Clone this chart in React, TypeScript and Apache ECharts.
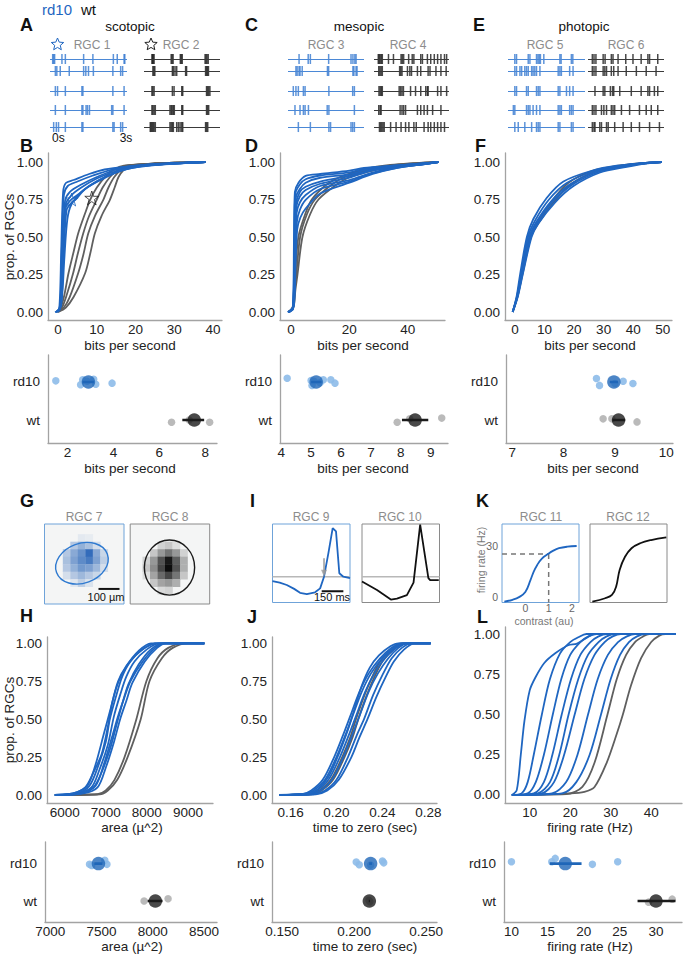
import React, { useEffect, useRef } from 'react';
import * as echarts from 'echarts';

const FONT = '"Liberation Sans", Arial, Helvetica, sans-serif';
const BLUE = '#1f66c1';
const GRAY_LINE = '#5f5f5f';
const LIGHT_BLUE = '#8dbbe9';
const LIGHT_GRAY = '#b2b2b2';
const MEAN_BLUE = '#1f66b8';
const MEAN_BLACK = '#1b1b1b';
const AXIS = '#a3a3a3';

// ---------------- A/C/E rasters (spike times, s) ----------------
const trialLevels = [1, 2, 3.67, 5.25, 6.67];
const rgc1Spikes = [
  [0.03, 0.07, 0.11, 0.41, 0.55, 1.3, 1.68, 2.52, 2.68, 2.96, 2.99],
  [0.14, 0.2, 0.34, 0.71, 1.3, 1.39, 1.5, 1.7, 2.5, 2.82, 2.9],
  [0.14, 0.23, 0.55, 1.23, 1.27, 2.5, 2.96],
  [0.14, 0.55, 1.23, 1.27, 1.4, 1.46, 1.54, 2.45, 2.5, 2.96],
  [0.07, 0.18, 0.27, 0.55, 1.23, 1.27, 2.5, 2.55, 2.82, 2.9],
];
const rgc2Spikes = [
  [0.25, 0.28, 0.3, 0.34, 1.05, 1.09, 1.13, 1.43, 1.47, 1.51, 2.46, 2.5, 2.54, 2.59],
  [0.29, 0.33, 0.37, 1.1, 1.14, 1.21, 1.28, 1.65, 1.69, 2.48, 2.52, 2.56, 2.6],
  [0.25, 0.29, 0.34, 1.1, 1.17, 1.49, 1.53, 2.52, 2.56, 2.61, 2.66],
  [0.25, 0.29, 0.34, 0.39, 1.0, 1.05, 1.09, 1.14, 1.18, 1.49, 1.53, 2.52, 2.56, 2.61],
  [0.18, 0.22, 0.26, 0.3, 0.34, 0.39, 1.0, 1.05, 1.1, 1.14, 1.28, 1.35, 1.42, 1.49, 1.53, 2.48, 2.52, 2.57],
];
const rgc3Spikes = [
  [0.38, 0.76, 0.85, 1.61, 2.54, 2.62, 2.7, 2.75],
  [0.25, 0.3, 0.38, 0.42, 0.51, 1.56, 1.61, 2.62, 2.66, 2.75, 2.79],
  [0.14, 0.25, 0.35, 0.56, 0.63, 1.62, 2.61, 2.68],
  [0.21, 0.42, 0.56, 0.63, 0.77, 1.55, 1.62, 2.68],
  [0.35, 0.85, 1.62, 1.69, 2.54, 2.61, 2.68],
];
const rgc4Spikes = [
  [0.1, 0.14, 0.18, 0.23, 0.27, 0.53, 0.74, 1.06, 1.11, 1.17, 1.38, 1.53, 1.6, 1.89, 1.96, 2.17, 2.31, 2.46, 2.6, 2.74, 2.89, 2.98],
  [0.12, 0.17, 0.22, 0.27, 1.0, 1.05, 1.1, 1.33, 1.43, 1.5, 1.75, 1.89, 2.2, 2.28, 2.53, 2.74, 2.96],
  [0.13, 0.18, 0.23, 0.27, 0.98, 1.04, 1.1, 1.16, 1.46, 1.67, 1.89, 2.1, 2.17, 2.2, 2.6, 2.74, 2.98],
  [0.12, 0.18, 0.22, 1.02, 1.1, 1.17, 1.25, 1.75, 1.89, 2.03, 2.17, 2.39, 2.74],
  [0.15, 0.2, 0.25, 0.3, 0.35, 0.62, 0.85, 1.06, 1.25, 1.39, 1.6, 1.7, 2.03, 2.2, 2.31, 2.46, 2.6, 2.74, 2.89],
];
const rgc5Spikes = [
  [0.2, 0.27, 0.75, 0.82, 1.09, 1.15, 1.2, 1.25, 1.39, 2.05, 2.1, 2.52, 2.58],
  [0.2, 0.27, 0.41, 0.48, 0.61, 0.68, 0.75, 0.89, 0.95, 1.02, 1.09, 1.23, 1.98, 2.05, 2.11, 2.45, 2.59],
  [0.2, 0.27, 0.68, 0.75, 1.09, 1.16, 1.23, 1.98, 2.05, 2.32, 2.45, 2.59],
  [0.14, 0.2, 0.68, 0.75, 0.82, 0.95, 1.09, 1.23, 1.98, 2.05, 2.11, 2.45, 2.52, 2.59],
  [0.2, 0.34, 0.61, 0.89, 1.09, 1.16, 1.23, 1.98, 2.05, 2.52, 2.59],
];
const rgc6Spikes = [
  [0.1, 0.17, 0.25, 0.55, 0.63, 0.89, 0.96, 1.17, 1.49, 1.79, 2.13, 2.41, 2.48, 2.82],
  [0.1, 0.17, 0.25, 0.55, 0.62, 0.69, 0.89, 0.99, 1.17, 1.51, 1.93, 2.34, 2.75],
  [0.21, 0.55, 0.62, 0.85, 0.94, 0.99, 1.24, 1.72, 2.13, 2.41, 2.48, 2.68, 2.82],
  [0.1, 0.17, 0.25, 0.48, 0.58, 0.69, 0.89, 0.96, 1.03, 1.31, 1.65, 2.06, 2.34, 2.55, 2.82],
  [0.1, 0.17, 0.21, 0.41, 0.48, 0.69, 0.76, 1.03, 1.38, 1.72, 2.06, 2.48, 2.89],
];

// ---------------- B: scotopic CDFs (bits/s, proportion) ----------------
const scotopicWt = [
  [[-0.5, 0], [0.5, 0.02], [1.5, 0.1], [2.7, 0.26], [4, 0.4], [5.2, 0.525], [7, 0.66], [8.3, 0.75], [10, 0.83], [12.1, 0.9], [14.5, 0.95], [17, 0.975], [25, 0.99], [38, 1]],
  [[-0.3, 0], [1, 0.03], [2.3, 0.12], [3.9, 0.26], [5, 0.38], [6.5, 0.525], [8, 0.64], [10, 0.75], [11.5, 0.83], [13.4, 0.9], [15.5, 0.95], [17.5, 0.975], [25, 0.99], [38, 1]],
  [[0, 0], [1.5, 0.03], [3, 0.1], [5.2, 0.26], [6.5, 0.38], [7.8, 0.525], [9.5, 0.64], [11.7, 0.75], [13, 0.83], [14.5, 0.9], [16.3, 0.95], [18, 0.975], [25, 0.99], [38, 1]],
  [[0, 0], [2, 0.03], [4, 0.1], [7, 0.26], [8.3, 0.39], [9.5, 0.525], [11.2, 0.64], [13.4, 0.75], [14.6, 0.83], [15.6, 0.9], [17, 0.95], [18.5, 0.975], [25, 0.99], [38, 1]],
];
const scotopicRd10 = [
  [[-0.5, 0], [0.3, 0.02], [0.8, 0.4], [1.3, 0.8], [2, 0.86], [4, 0.88], [8, 0.92], [12, 0.95], [18, 0.97], [25, 0.985], [38, 1]],
  [[-0.5, 0], [0.5, 0.03], [1, 0.45], [1.5, 0.78], [2.5, 0.84], [5, 0.87], [9, 0.91], [14, 0.95], [20, 0.975], [28, 0.99], [38, 1]],
  [[-0.8, 0], [0.5, 0.02], [1.2, 0.4], [1.8, 0.74], [3, 0.8], [6, 0.85], [10, 0.9], [15, 0.95], [20, 0.97], [30, 0.99], [38, 1]],
  [[-0.5, 0], [0.6, 0.04], [1.3, 0.45], [2, 0.72], [3.5, 0.78], [6, 0.83], [10, 0.89], [15, 0.94], [20, 0.97], [30, 0.99], [38, 1]],
  [[0, 0], [0.8, 0.05], [1.5, 0.4], [2.2, 0.68], [3.5, 0.73], [4.5, 0.75], [7, 0.82], [11, 0.88], [16, 0.94], [22, 0.975], [38, 1]],
  [[0, 0], [1, 0.1], [1.6, 0.35], [2.4, 0.62], [3.5, 0.72], [6, 0.8], [10, 0.87], [15, 0.93], [20, 0.97], [30, 0.99], [38, 1]],
  [[-0.3, 0], [0.8, 0.05], [1.3, 0.5], [2, 0.7], [3, 0.74], [5, 0.78], [8, 0.84], [12, 0.9], [17, 0.95], [25, 0.98], [38, 1]],
];
const scotopicStarRd10 = [[3.5, 0.75]];
const scotopicStarWt = [[8.7, 0.76]];

// ---------------- D: mesopic CDFs ----------------
const mesopicWt = [
  [[-1, 0], [0.5, 0.03], [1, 0.15], [1.4, 0.25], [2.5, 0.5], [4.8, 0.65], [7.1, 0.75], [12.2, 0.85], [16.8, 0.9], [24.8, 0.95], [34, 0.98], [50.5, 1]],
  [[-1, 0], [0.6, 0.03], [1.2, 0.15], [1.8, 0.25], [3.1, 0.5], [5.4, 0.65], [8.2, 0.75], [14, 0.85], [18.5, 0.9], [27, 0.95], [36, 0.98], [50.5, 1]],
  [[-0.8, 0], [0.8, 0.03], [1.5, 0.15], [2.2, 0.25], [3.9, 0.5], [6.5, 0.65], [9.4, 0.75], [15.7, 0.85], [20.2, 0.9], [29.4, 0.95], [38, 0.98], [50.5, 1]],
];
const mesopicRd10 = [
  [[-1, 0], [0.6, 0.02], [1, 0.5], [1.3, 0.8], [2.5, 0.86], [5, 0.907], [10, 0.92], [20, 0.942], [25, 0.96], [35, 0.975], [45, 0.99], [50.5, 1]],
  [[-1, 0], [0.7, 0.02], [1.1, 0.5], [1.5, 0.79], [3, 0.85], [5, 0.885], [10, 0.91], [20, 0.931], [25, 0.955], [35, 0.975], [45, 0.99], [50.5, 1]],
  [[-0.8, 0], [0.7, 0.03], [1.2, 0.5], [1.6, 0.76], [3, 0.82], [5, 0.862], [10, 0.895], [20, 0.918], [26, 0.95], [35, 0.972], [45, 0.99], [50.5, 1]],
  [[-0.8, 0], [0.8, 0.03], [1.3, 0.45], [1.7, 0.72], [3, 0.8], [5, 0.835], [10, 0.87], [20, 0.907], [27, 0.945], [35, 0.97], [45, 0.985], [50.5, 1]],
  [[-1.2, 0], [0.7, 0.03], [1.2, 0.45], [1.8, 0.7], [3, 0.77], [5, 0.813], [10, 0.855], [20, 0.896], [27, 0.94], [35, 0.965], [45, 0.985], [50.5, 1]],
  [[-1, 0], [0.8, 0.04], [1.3, 0.4], [1.9, 0.66], [3, 0.73], [5, 0.78], [10, 0.84], [20, 0.88], [28, 0.93], [36, 0.965], [45, 0.985], [50.5, 1]],
  [[-0.5, 0], [0.9, 0.05], [1.4, 0.35], [2, 0.6], [3, 0.68], [5, 0.747], [10, 0.82], [20, 0.87], [28, 0.925], [36, 0.96], [45, 0.985], [50.5, 1]],
  [[-0.5, 0], [1, 0.05], [1.5, 0.3], [2.1, 0.55], [3.2, 0.63], [5, 0.69], [10, 0.79], [20, 0.862], [28, 0.92], [36, 0.96], [45, 0.985], [50.5, 1]],
];

// ---------------- F: photopic CDFs ----------------
const photopicWt = [
  [[-0.8, 0], [0.7, 0.1], [2.2, 0.25], [5, 0.5], [7.8, 0.6], [12.5, 0.74], [18, 0.86], [26, 0.94], [35, 0.975], [42, 0.99], [49.7, 1]],
  [[-0.8, 0], [0.8, 0.1], [2.5, 0.25], [5.4, 0.5], [8.2, 0.6], [13, 0.73], [18.8, 0.85], [27, 0.935], [36, 0.972], [43, 0.99], [49.7, 1]],
];
const photopicRd10 = [
  [[-0.8, 0], [0.5, 0.1], [1.7, 0.25], [4, 0.5], [6.2, 0.62], [10.7, 0.76], [16.4, 0.87], [26.5, 0.945], [34.4, 0.975], [42, 0.99], [49.7, 1]],
  [[-0.8, 0], [0.6, 0.1], [2, 0.25], [4.4, 0.5], [6.8, 0.61], [11.5, 0.75], [17.5, 0.86], [27, 0.94], [35, 0.972], [42, 0.99], [49.7, 1]],
  [[-0.8, 0], [0.7, 0.1], [2.2, 0.25], [4.8, 0.5], [7.2, 0.6], [12.3, 0.74], [18.5, 0.85], [27.5, 0.935], [36, 0.97], [43, 0.99], [49.7, 1]],
  [[-0.8, 0], [0.8, 0.1], [2.4, 0.25], [5.2, 0.5], [7.6, 0.6], [13, 0.74], [19.5, 0.85], [28.5, 0.935], [37, 0.97], [43, 0.99], [49.7, 1]],
  [[-0.8, 0], [0.9, 0.1], [2.6, 0.25], [5.6, 0.5], [7.9, 0.59], [13.5, 0.73], [19.8, 0.84], [28.8, 0.93], [37.8, 0.968], [44, 0.99], [49.7, 1]],
];

// ---------------- dot plots, bits per second ----------------
const scotRd10Pts = [1.49, 2.57, 2.66, 2.85, 3.14, 3.23, 3.94];
const scotRd10Jit = [0.03, -0.07, 0.06, 0.02, 0.07, -0.06, -0.03];
const scotRd10Mean = 2.91;
const scotRd10Err = [2.65, 3.15];
const scotWtPts = [6.53, 7.3, 8.19];
const scotWtJit = [-0.06, 0, -0.06];
const scotWtMean = 7.52;
const scotWtErr = [7.0, 7.95];

const mesoRd10Pts = [4.2, 5.0, 5.03, 5.1, 5.3, 5.41, 5.66, 5.8];
const mesoRd10Jit = [0.1, 0.04, -0.09, 0.02, -0.02, 0.06, 0.06, -0.03];
const mesoRd10Mean = 5.17;
const mesoRd10Err = [5.0, 5.35];
const mesoWtPts = [7.88, 8.3, 9.37];
const mesoWtJit = [-0.06, 0.03, 0.05];
const mesoWtMean = 8.48;
const mesoWtErr = [8.04, 8.92];

const photoRd10Pts = [8.64, 8.7, 9.0, 9.16, 9.35];
const photoRd10Jit = [0.09, -0.09, -0.04, 0.02, -0.04];
const photoRd10Mean = 8.98;
const photoRd10Err = [8.9, 9.06];
const photoWtPts = [8.77, 8.94, 9.43];
const photoWtJit = [0.03, 0.03, -0.05];
const photoWtMean = 9.07;
const photoWtErr = [8.95, 9.2];

// ---------------- G: receptive fields (col, row, strength) ----------------
const rgc7Cells = [
  [2, -1, 0.08], [3, -1, 0.06],
  [1, 0, 0.3], [2, 0, 0.45], [3, 0, 0.35], [4, 0, 0.15],
  [0, 1, 0.3], [1, 1, 0.5], [2, 1, 0.65], [3, 1, 0.9], [4, 1, 0.5], [5, 1, 0.2],
  [0, 2, 0.35], [1, 2, 0.55], [2, 2, 0.7], [3, 2, 0.8], [4, 2, 0.55], [5, 2, 0.25],
  [0, 3, 0.3], [1, 3, 0.45], [2, 3, 0.6], [3, 3, 0.55], [4, 3, 0.4], [5, 3, 0.15],
  [0, 4, 0.15], [1, 4, 0.3], [2, 4, 0.4], [3, 4, 0.3], [4, 4, 0.2],
  [1, 5, 0.1], [2, 5, 0.25], [3, 5, 0.12],
];
const rgc7Ellipse = [[2.55, 2.85, 3.6, 2.65, 20]];
const rgc8Cells = [
  [2, 0, 0.15], [3, 0, 0.2], [4, 0, 0.1],
  [1, 1, 0.2], [2, 1, 0.4], [3, 1, 0.55], [4, 1, 0.4], [5, 1, 0.15],
  [0, 2, 0.15], [1, 2, 0.4], [2, 2, 0.7], [3, 2, 0.95], [4, 2, 0.65], [5, 2, 0.3],
  [0, 3, 0.2], [1, 3, 0.45], [2, 3, 0.75], [3, 3, 1.0], [4, 3, 0.7], [5, 3, 0.3],
  [0, 4, 0.1], [1, 4, 0.35], [2, 4, 0.6], [3, 4, 0.75], [4, 4, 0.55], [5, 4, 0.2],
  [1, 5, 0.2], [2, 5, 0.35], [3, 5, 0.4], [4, 5, 0.3],
  [2, 6, 0.12], [3, 6, 0.15],
];
const rgc8Ellipse = [[3.6, 3.45, 3.35, 3.67, 0]];
const rfScaleBar = [[4.76, 6.3], [7.56, 6.3]];

// ---------------- I: temporal filters (ms, normalised) ----------------
const rgc9Trace = [[0, -0.09], [50, -0.12], [99, -0.17], [150, -0.25], [191, -0.33], [238, -0.36], [295, -0.32], [330, -0.24], [357, 0], [387, 0.48], [417, 1.0], [440, 0.93], [463, 0.07], [491, 0], [537, -0.03]];
const rgc10Trace = [[0, -0.1], [104, -0.275], [200, -0.47], [242, -0.45], [311, -0.38], [357, -0.12], [403, 1.07], [460, -0.03], [472, -0.07], [532, -0.07]];
const filterScaleBar = [[341, -0.3], [491, -0.3]];
const zeroCrossArrow = [[357, 0.38], [357, 0.07]];

// ---------------- K: contrast response (au, Hz) ----------------
const rgc11Curve = [[-0.9, -2.6], [-0.55, -1.5], [-0.25, 0.2], [0, 3], [0.22, 10], [0.36, 15], [0.51, 18.9], [0.7, 22.5], [0.97, 25.3], [1.2, 27.3], [1.44, 28.7], [1.8, 29.6], [2.2, 30]];
const rgc12Curve = [[-0.9, -2.6], [-0.35, -0.6], [-0.06, 1.3], [0.12, 6.2], [0.27, 16], [0.5, 23.7], [0.78, 28.7], [1.15, 31.6], [1.62, 33.5], [2.27, 35.1]];
const rgc11GuideH = [[-1, 25.3], [1, 25.3]];
const rgc11GuideV = [[1, 25.3], [1, -3.1]];

// ---------------- H: RF area CDFs ----------------
const areaWt = [
  [[5760, 0], [6800, 0.005], [7000, 0.03], [7213, 0.1], [7457, 0.25], [7745, 0.5], [7989, 0.75], [8255, 0.9], [8521, 0.97], [8894, 1], [9400, 1]],
  [[5760, 0], [6850, 0.005], [7050, 0.03], [7280, 0.1], [7532, 0.25], [7851, 0.5], [8064, 0.75], [8362, 0.9], [8628, 0.97], [9000, 1], [9400, 1]],
];
const areaRd10 = [
  [[5760, 0], [6200, 0.01], [6500, 0.05], [6700, 0.15], [6900, 0.27], [7050, 0.45], [7150, 0.6], [7300, 0.75], [7500, 0.85], [7800, 0.95], [8100, 1], [9400, 1]],
  [[5760, 0], [6300, 0.01], [6600, 0.06], [6800, 0.18], [7000, 0.35], [7100, 0.5], [7250, 0.65], [7400, 0.78], [7600, 0.88], [7900, 0.96], [8200, 1], [9400, 1]],
  [[5760, 0], [6300, 0.01], [6650, 0.05], [6850, 0.17], [7050, 0.33], [7200, 0.52], [7350, 0.66], [7500, 0.78], [7700, 0.88], [8000, 0.96], [8300, 1], [9400, 1]],
  [[5760, 0], [6400, 0.01], [6700, 0.05], [6900, 0.15], [7100, 0.3], [7250, 0.45], [7400, 0.6], [7550, 0.73], [7800, 0.86], [8100, 0.96], [8400, 1], [9400, 1]],
  [[5760, 0], [6400, 0.01], [6750, 0.06], [6950, 0.2], [7150, 0.38], [7300, 0.52], [7450, 0.64], [7600, 0.75], [7900, 0.88], [8200, 0.97], [8450, 1], [9400, 1]],
  [[5760, 0], [6450, 0.01], [6800, 0.05], [7000, 0.18], [7200, 0.35], [7350, 0.5], [7500, 0.62], [7650, 0.74], [7950, 0.88], [8250, 0.97], [8470, 1], [9400, 1]],
  [[5760, 0], [6200, 0.01], [6550, 0.06], [6750, 0.2], [6950, 0.4], [7100, 0.55], [7250, 0.7], [7400, 0.8], [7650, 0.9], [7950, 0.97], [8250, 1], [9400, 1]],
];

// ---------------- J: time to zero CDFs ----------------
const tzcWt = [
  [[0.15, 0], [0.176, 0.005], [0.185, 0.03], [0.195, 0.1], [0.205, 0.25], [0.212, 0.38], [0.217, 0.5], [0.224, 0.65], [0.23, 0.76], [0.238, 0.88], [0.248, 0.96], [0.257, 1], [0.282, 1]],
  [[0.15, 0], [0.178, 0.005], [0.187, 0.03], [0.197, 0.1], [0.207, 0.25], [0.214, 0.38], [0.219, 0.5], [0.226, 0.65], [0.232, 0.76], [0.24, 0.88], [0.25, 0.96], [0.259, 1], [0.282, 1]],
];
const tzcRd10 = [
  [[0.15, 0], [0.17, 0.005], [0.178, 0.03], [0.188, 0.1], [0.198, 0.25], [0.206, 0.4], [0.212, 0.52], [0.22, 0.68], [0.228, 0.8], [0.238, 0.9], [0.248, 0.97], [0.256, 1], [0.282, 1]],
  [[0.15, 0], [0.172, 0.005], [0.18, 0.03], [0.19, 0.1], [0.2, 0.25], [0.208, 0.4], [0.214, 0.52], [0.222, 0.68], [0.23, 0.8], [0.24, 0.9], [0.25, 0.97], [0.258, 1], [0.282, 1]],
  [[0.15, 0], [0.174, 0.005], [0.183, 0.03], [0.193, 0.1], [0.203, 0.25], [0.211, 0.4], [0.217, 0.52], [0.225, 0.68], [0.233, 0.8], [0.242, 0.9], [0.252, 0.97], [0.26, 1], [0.282, 1]],
  [[0.15, 0], [0.176, 0.005], [0.186, 0.03], [0.196, 0.1], [0.206, 0.25], [0.214, 0.4], [0.22, 0.52], [0.228, 0.68], [0.236, 0.8], [0.245, 0.9], [0.254, 0.97], [0.262, 1], [0.282, 1]],
  [[0.15, 0], [0.18, 0.005], [0.19, 0.03], [0.2, 0.1], [0.21, 0.25], [0.218, 0.4], [0.224, 0.5], [0.232, 0.66], [0.24, 0.79], [0.248, 0.9], [0.257, 0.97], [0.265, 1], [0.282, 1]],
  [[0.15, 0], [0.182, 0.005], [0.192, 0.03], [0.202, 0.1], [0.213, 0.25], [0.22, 0.38], [0.227, 0.5], [0.235, 0.65], [0.243, 0.78], [0.25, 0.88], [0.259, 0.96], [0.268, 1], [0.282, 1]],
  [[0.15, 0], [0.176, 0.01], [0.184, 0.04], [0.193, 0.12], [0.202, 0.27], [0.21, 0.43], [0.215, 0.55], [0.222, 0.72], [0.229, 0.84], [0.237, 0.92], [0.247, 0.98], [0.254, 1], [0.282, 1]],
];

// ---------------- L: firing rate CDFs ----------------
const rateWt = [
  [[5.6, 0], [19, 0.005], [23, 0.05], [26, 0.2], [29.2, 0.5], [31.5, 0.72], [33.8, 0.87], [36, 0.95], [38, 0.985], [39.5, 1], [46, 1]],
  [[5.6, 0], [20, 0.01], [23.5, 0.02], [26, 0.05], [29, 0.2], [31.5, 0.38], [33, 0.5], [35, 0.68], [37.5, 0.85], [40, 0.95], [42, 0.99], [43.5, 1], [46, 1]],
];
const rateRd10 = [
  [[5.6, 0], [6.8, 0.03], [7.8, 0.25], [8.7, 0.46], [10, 0.65], [11.4, 0.73], [13.6, 0.82], [16.3, 0.88], [19.5, 0.93], [21.7, 0.94], [24.3, 0.98], [26, 1], [46, 1]],
  [[5.6, 0], [8, 0.01], [9.5, 0.08], [11, 0.25], [13, 0.5], [15, 0.72], [17.5, 0.88], [20, 0.95], [22, 0.98], [24, 1], [46, 1]],
  [[5.6, 0], [9.5, 0.01], [11.5, 0.08], [13.5, 0.25], [15.7, 0.5], [17.8, 0.72], [20, 0.87], [22.5, 0.95], [24.5, 0.985], [26.5, 1], [46, 1]],
  [[5.6, 0], [11, 0.01], [13.5, 0.08], [15.6, 0.25], [17.9, 0.5], [20.2, 0.72], [22.5, 0.87], [25, 0.95], [27, 0.985], [29, 1], [46, 1]],
  [[5.6, 0], [12, 0.01], [15, 0.08], [17.3, 0.25], [19.6, 0.5], [22, 0.72], [24.4, 0.87], [27, 0.95], [29, 0.985], [31, 1], [46, 1]],
  [[5.6, 0], [13, 0.01], [16, 0.08], [18.5, 0.25], [21.1, 0.5], [23.5, 0.72], [26, 0.87], [28.5, 0.95], [30.5, 0.985], [32.5, 1], [46, 1]],
  [[5.6, 0], [15.5, 0.01], [19, 0.08], [21.8, 0.25], [24.4, 0.5], [26.8, 0.72], [29.3, 0.87], [31.8, 0.95], [34, 0.985], [36, 1], [46, 1]],
  [[5.6, 0], [18, 0.01], [21.5, 0.08], [24.8, 0.25], [27.6, 0.5], [30, 0.72], [32.3, 0.87], [34.5, 0.95], [36.5, 0.985], [38.5, 1], [46, 1]],
];

// ---------------- bottom dot plots ----------------
const areaRd10Pts = [7383, 7404, 7532, 7553];
const areaRd10Jit = [-0.02, -0.05, 0.09, -0.02];
const areaRd10Mean = 7470;
const areaRd10Err = [7430, 7510];
const areaWtPts = [7915, 8149];
const areaWtJit = [0, 0.06];
const areaWtMean = 8025;
const areaWtErr = [7950, 8095];

const tzcRd10Pts = [0.2015, 0.2036, 0.2115, 0.2197, 0.2206];
const tzcRd10Jit = [0.04, -0.03, -0.04, 0.07, 0.02];
const tzcRd10Mean = 0.2115;
const tzcRd10Err = [0.2105, 0.2125];
const tzcWtPts = [0.2103, 0.211];
const tzcWtJit = [0.02, -0.02];
const tzcWtMean = 0.2106;
const tzcWtErr = [0.2102, 0.211];

const rateRd10Pts = [10.0, 15.58, 16.06, 21.2, 24.7];
const rateRd10Jit = [0.05, 0.05, 0.14, -0.02, 0.05];
const rateRd10Mean = 17.45;
const rateRd10Err = [15.3, 19.7];
const rateWtPts = [28.97, 32.24];
const rateWtJit = [-0.03, 0.05];
const rateWtMean = 30.0;
const rateWtErr = [27.45, 32.7];

const cdfTicks = [0, 0.25, 0.5, 0.75, 1];
const STAR = 'path://M50,4 L61,38 L97,38 L68,59 L79,94 L50,72 L21,94 L32,59 L3,38 L39,38 Z';
const TICK_FS = 13.5;

function mix(a: string, b: string, t: number) {
  const pa = [1, 3, 5].map((i) => parseInt(a.slice(i, i + 2), 16));
  const pb = [1, 3, 5].map((i) => parseInt(b.slice(i, i + 2), 16));
  const c = pa.map((v, i) => Math.round(v + (pb[i] - v) * Math.max(0, Math.min(1, t))));
  return `rgb(${c[0]},${c[1]},${c[2]})`;
}

function starPoints(cx: number, cy: number, R: number) {
  const pts: number[][] = [];
  for (let k = 0; k < 10; k++) {
    const a = -Math.PI / 2 + (k * Math.PI) / 5;
    const r = k % 2 ? R * 0.45 : R;
    pts.push([cx + r * Math.cos(a), cy + r * Math.sin(a)]);
  }
  return pts;
}

function buildOption() {
  const grid: any[] = [];
  const xAxis: any[] = [];
  const yAxis: any[] = [];
  const series: any[] = [];
  const graphic: any[] = [];

  const addGrid = (g: any, xa: any, ya: any) => {
    const i = grid.length;
    grid.push({ containLabel: false, outerBoundsMode: 'none', ...g });
    xAxis.push({ gridIndex: i, ...xa });
    yAxis.push({ gridIndex: i, ...ya });
    return i;
  };
  const hidden = (min: number, max: number, inverse = false) => ({ type: 'value', min, max, inverse, show: false });
  const visAxis = (min: number, max: number, ticks: number[], fmt?: any, margin = 2, showLine = true, labelColor = '#222', fontSize = TICK_FS) => {
    const lab: any = { show: true, customValues: ticks, color: labelColor, fontSize, fontFamily: FONT, margin, formatter: fmt || ((v: number) => String(v)) };
    return {
      type: 'value', min, max,
      axisLine: { show: showLine, onZero: false, lineStyle: { color: AXIS, width: 1.3 } },
      axisTick: { show: false },
      splitLine: { show: false },
      axisLabel: lab,
    };
  };
  const text = (t: string, x: number, y: number, o: any = {}) => {
    graphic.push({
      type: 'text', x, y, silent: true, rotation: o.rot || 0,
      style: {
        text: t, fill: o.color || '#222', fontSize: o.size || TICK_FS, fontFamily: FONT,
        fontWeight: o.weight || 'normal', align: o.align || 'center', verticalAlign: 'middle',
      },
    });
  };
  const line = (gi: number, data: any, color: string, width = 1.8, smooth: any = 0.3, dash: any = 'solid') => {
    series.push({
      type: 'line', xAxisIndex: gi, yAxisIndex: gi, data, showSymbol: false, symbol: 'none',
      smooth, silent: true,
      lineStyle: { color, width, type: dash },
    });
  };

  // ---------- rasters ----------
  const rasters = [
    { left: 50, width: 77, spikes: rgc1Spikes, blue: true },
    { left: 144, width: 76, spikes: rgc2Spikes, blue: false },
    { left: 288, width: 76, spikes: rgc3Spikes, blue: true },
    { left: 374, width: 75, spikes: rgc4Spikes, blue: false },
    { left: 508, width: 77, spikes: rgc5Spikes, blue: true },
    { left: 588, width: 76, spikes: rgc6Spikes, blue: false },
  ];
  rasters.forEach((r) => {
    const gi = addGrid({ left: r.left, top: 47, width: r.width, height: 90 }, hidden(-0.08, 3.08), hidden(0, 7.5, true));
    const data: number[][] = [];
    r.spikes.forEach((trial, ti) => trial.forEach((t) => data.push([t, trialLevels[ti]])));
    const spikeColor = r.blue ? '#3478d0' : '#1c1c1c';
    const baseColor = r.blue ? '#4b88d6' : '#3a3a3a';
    series.push({
      type: 'scatter', xAxisIndex: gi, yAxisIndex: gi, data, symbol: 'rect', symbolSize: [1.5, 10], silent: true,
      itemStyle: { color: spikeColor },
      markLine: {
        silent: true, symbol: ['none', 'none'], label: { show: false }, animation: false,
        lineStyle: { color: baseColor, width: 1.2, type: 'solid' },
        data: trialLevels.map((v) => ({ yAxis: v })),
      },
      z: 3,
    });
  });

  // ---------- CDF panels ----------
  const yFmt = (v: number) => v.toFixed(2);
  const addCdf = (rect: any, xr: number[], xt: number[], xf: any, yr: number[], grays: any[], blues: any[]) => {
    const gi = addGrid(rect, visAxis(xr[0], xr[1], xt, xf, 2), visAxis(yr[0], yr[1], cdfTicks, yFmt, 5));
    grays.forEach((c) => line(gi, c, GRAY_LINE));
    blues.forEach((c) => line(gi, c, BLUE));
    return gi;
  };
  const gB = addCdf({ left: 48, top: 153, width: 174, height: 167 }, [-2.6, 42.3], [0, 10, 20, 30, 40], null, [-0.053, 1.06], scotopicWt, scotopicRd10);
  series.push({ type: 'scatter', xAxisIndex: gB, yAxisIndex: gB, data: scotopicStarRd10, symbol: STAR, symbolSize: 13, silent: true, z: 5, itemStyle: { color: 'rgba(255,255,255,0)', borderColor: BLUE, borderWidth: 1 } });
  series.push({ type: 'scatter', xAxisIndex: gB, yAxisIndex: gB, data: scotopicStarWt, symbol: STAR, symbolSize: 14, silent: true, z: 5, itemStyle: { color: 'rgba(255,255,255,0)', borderColor: '#222', borderWidth: 1 } });
  addCdf({ left: 280, top: 153, width: 165, height: 167 }, [-3.8, 52.8], [0, 20, 40], null, [-0.053, 1.06], mesopicWt, mesopicRd10);
  addCdf({ left: 505, top: 153, width: 167, height: 167 }, [-3.4, 53.15], [0, 10, 20, 30, 40, 50], null, [-0.053, 1.06], photopicWt, photopicRd10);

  addCdf({ left: 47, top: 637, width: 166, height: 166 }, [5569, 9611], [6000, 7000, 8000, 9000], null, [-0.0527, 1.0415], areaWt, areaRd10);
  addCdf({ left: 272, top: 637, width: 165, height: 166 }, [0.1438, 0.2876], [0.16, 0.2, 0.24, 0.28], (v: number) => v.toFixed(2), [-0.0527, 1.0415], tzcWt, tzcRd10);
  addCdf({ left: 505, top: 627, width: 177, height: 176 }, [3.9, 47.6], [10, 20, 30, 40], null, [-0.0497, 1.0435], rateWt, rateRd10);

  // ---------- dot panels ----------
  const catFmt = (v: number) => (v === 1 ? 'rd10' : 'wt');
  const addDots = (rect: any, xr: number[], xt: number[], xf: any, yr: number[], d: any) => {
    const gi = addGrid(rect, visAxis(xr[0], xr[1], xt, xf, 2), visAxis(yr[0], yr[1], [0, 1], catFmt, 8));
    const grp = (pts: number[], jit: number[], base: number, light: string, mean: number, err: number[], dark: string) => {
      series.push({ type: 'scatter', xAxisIndex: gi, yAxisIndex: gi, silent: true, data: pts.map((x, i) => [x, base + jit[i]]), symbolSize: 7.5, itemStyle: { color: light, opacity: 0.9 }, z: 2 });
      series.push({ type: 'line', xAxisIndex: gi, yAxisIndex: gi, silent: true, data: [[err[0], base], [err[1], base]], symbol: 'none', lineStyle: { color: dark, width: 2.6 }, z: 3 });
      series.push({ type: 'scatter', xAxisIndex: gi, yAxisIndex: gi, silent: true, data: [[mean, base]], symbolSize: 13.5, itemStyle: { color: dark }, z: 4 });
    };
    grp(d.rp, d.rj, 1, LIGHT_BLUE, d.rm, d.re, MEAN_BLUE);
    grp(d.wp, d.wj, 0, LIGHT_GRAY, d.wm, d.we, MEAN_BLACK);
  };
  const row2 = [-0.605, 1.71];
  addDots({ left: 48, top: 355, width: 169, height: 88 }, [1.15, 8.51], [2, 4, 6, 8], null, row2,
    { rp: scotRd10Pts, rj: scotRd10Jit, rm: scotRd10Mean, re: scotRd10Err, wp: scotWtPts, wj: scotWtJit, wm: scotWtMean, we: scotWtErr });
  addDots({ left: 280, top: 355, width: 168, height: 88 }, [3.96, 9.58], [4, 5, 6, 7, 8, 9], null, row2,
    { rp: mesoRd10Pts, rj: mesoRd10Jit, rm: mesoRd10Mean, re: mesoRd10Err, wp: mesoWtPts, wj: mesoWtJit, wm: mesoWtMean, we: mesoWtErr });
  addDots({ left: 506, top: 355, width: 167, height: 88 }, [6.88, 10.13], [7, 8, 9, 10], null, row2,
    { rp: photoRd10Pts, rj: photoRd10Jit, rm: photoRd10Mean, re: photoRd10Err, wp: photoWtPts, wj: photoWtJit, wm: photoWtMean, we: photoWtErr });
  const row5 = [-0.561, 1.578];
  addDots({ left: 45, top: 842, width: 172, height: 80 }, [6949, 8626], [7000, 7500, 8000, 8500], null, row5,
    { rp: areaRd10Pts, rj: areaRd10Jit, rm: areaRd10Mean, re: areaRd10Err, wp: areaWtPts, wj: areaWtJit, wm: areaWtMean, we: areaWtErr });
  addDots({ left: 272, top: 842, width: 165, height: 80 }, [0.143, 0.2576], [0.15, 0.2, 0.25], (v: number) => v.toFixed(3), row5,
    { rp: tzcRd10Pts, rj: tzcRd10Jit, rm: tzcRd10Mean, re: tzcRd10Err, wp: tzcWtPts, wj: tzcWtJit, wm: tzcWtMean, we: tzcWtErr });
  addDots({ left: 504, top: 842, width: 178, height: 80 }, [8.97, 33.6], [10, 15, 20, 25, 30], null, row5,
    { rp: rateRd10Pts, rj: rateRd10Jit, rm: rateRd10Mean, re: rateRd10Err, wp: rateWtPts, wj: rateWtJit, wm: rateWtMean, we: rateWtErr });

  // ---------- G: receptive fields ----------
  const BG = '#f4f5f5';
  const addRf = (left: number, xr: number[], cells: number[][], ell: number[][], dark: string, frame: string, lineColor: string) => {
    const gi = addGrid({ left, top: 524, width: 79.5, height: 80, show: true, backgroundColor: BG, borderColor: frame, borderWidth: 1 },
      hidden(xr[0], xr[1]), hidden(-2.36, 8.31, true));
    series.push({
      type: 'custom', xAxisIndex: gi, yAxisIndex: gi, silent: true, data: cells,
      renderItem: (p: any, api: any) => {
        const c = api.value(0), r = api.value(1), v = api.value(2);
        const a = api.coord([c, r]);
        const b = api.coord([c + 1, r + 1]);
        return { type: 'rect', shape: { x: Math.min(a[0], b[0]), y: Math.min(a[1], b[1]), width: Math.abs(b[0] - a[0]) + 0.3, height: Math.abs(b[1] - a[1]) + 0.3 }, style: { fill: mix(BG, dark, v) } };
      },
    });
    series.push({
      type: 'custom', xAxisIndex: gi, yAxisIndex: gi, silent: true, data: ell, z: 4,
      renderItem: (p: any, api: any) => {
        const c = api.coord([api.value(0), api.value(1)]);
        const s = api.size([api.value(2), api.value(3)]);
        return {
          type: 'ellipse', shape: { cx: c[0], cy: c[1], rx: Math.abs(s[0]), ry: Math.abs(s[1]) },
          rotation: (api.value(4) * Math.PI) / 180, originX: c[0], originY: c[1],
          style: { fill: 'none', stroke: lineColor, lineWidth: 1.4 },
        };
      },
    });
    return gi;
  };
  const g7 = addRf(44.5, [-2.44, 8.16], rgc7Cells, rgc7Ellipse, '#1d5db4', '#6fa3d9', '#2f7ad0');
  line(g7, rfScaleBar, '#111', 2, false);
  addRf(130.2, [-1.64, 8.96], rgc8Cells, rgc8Ellipse, '#0c0c0c', '#8a8a8a', '#1a1a1a');

  // ---------- I: temporal filters ----------
  const addFilt = (left: number, width: number, trace: number[][], color: string, frame: string) => {
    const gi = addGrid({ left, top: 524, width, height: 78.5, show: true, backgroundColor: '#ffffff', borderColor: frame, borderWidth: 1 },
      hidden(0, 537), hidden(-0.53, 1.083));
    line(gi, [[0, 0], [537, 0]], '#b8b8b8', 1.5, false);
    line(gi, trace, color, 1.8, false);
    return gi;
  };
  const g9 = addFilt(272.5, 77.5, rgc9Trace, BLUE, '#6fa3d9');
  line(g9, filterScaleBar, '#111', 2, false);
  line(g9, zeroCrossArrow, '#9a9a9a', 1.5, false);
  series.push({ type: 'scatter', xAxisIndex: g9, yAxisIndex: g9, silent: true, data: [zeroCrossArrow[1]], symbol: 'triangle', symbolRotate: 180, symbolSize: [6, 7], itemStyle: { color: '#9a9a9a' }, z: 5 });
  addFilt(362, 77.5, rgc10Trace, '#111', '#8a8a8a');

  // ---------- K: contrast response ----------
  const gK1 = addGrid({ left: 502, top: 524, width: 77, height: 78.5, show: true, backgroundColor: '#fff', borderColor: '#6fa3d9', borderWidth: 1 },
    visAxis(-1, 2.3, [0, 1, 2], null, 0, false, '#666', 10.5),
    visAxis(-3.1, 42.9, [0, 30], null, 4, false, '#666', 10.5));
  line(gK1, rgc11GuideH, '#777', 1.5, false, [5, 4]);
  line(gK1, rgc11GuideV, '#777', 1.5, false, [5, 4]);
  line(gK1, rgc11Curve, BLUE, 1.8, 0.4);
  const gK2 = addGrid({ left: 590, top: 524, width: 77, height: 78.5, show: true, backgroundColor: '#fff', borderColor: '#8a8a8a', borderWidth: 1 },
    hidden(-1, 2.3), hidden(-3.1, 42.9));
  line(gK2, rgc12Curve, '#111', 1.8, 0.4);

  // ---------- texts ----------
  text('rd10', 42, 9, { color: BLUE, size: 15, align: 'left' });
  text('wt', 81, 9, { color: '#111', size: 15, align: 'left' });
  const letters: [string, number, number][] = [
    ['A', 20, 25], ['C', 245, 25], ['E', 473, 25],
    ['B', 20, 146], ['D', 245, 146], ['F', 475, 146],
    ['G', 20, 501], ['I', 250, 501], ['K', 476, 501],
    ['H', 20, 616], ['J', 247, 617], ['L', 477, 617],
  ];
  letters.forEach(([t, x, y]) => text(t, x, y, { size: 18, weight: 'bold', align: 'left', color: '#111' }));
  text('scotopic', 130, 26, { size: 13.5, color: '#111' });
  text('mesopic', 359, 26, { size: 13.5, color: '#111' });
  text('photopic', 584, 26, { size: 13.5, color: '#111' });
  const rgcLabels: [string, number, number][] = [
    ['RGC 1', 92, 45], ['RGC 2', 181, 45], ['RGC 3', 326, 45], ['RGC 4', 408, 45], ['RGC 5', 545, 45], ['RGC 6', 626, 45],
    ['RGC 7', 84, 517], ['RGC 8', 170, 517], ['RGC 9', 311, 517], ['RGC 10', 400, 517], ['RGC 11', 541, 517], ['RGC 12', 628, 517],
  ];
  rgcLabels.forEach(([t, x, y]) => text(t, x, y, { size: 12, color: '#8c8c8c' }));
  graphic.push({ type: 'polygon', silent: true, shape: { points: starPoints(57.5, 44.5, 6.5) }, style: { fill: 'none', stroke: BLUE, lineWidth: 1 } });
  graphic.push({ type: 'polygon', silent: true, shape: { points: starPoints(151, 44.5, 6.5) }, style: { fill: 'none', stroke: '#222', lineWidth: 1 } });
  text('0s', 52, 138, { size: 12, align: 'left', color: '#111' });
  text('3s', 126, 138, { size: 12, color: '#111' });

  text('prop. of RGCs', 9, 237, { rot: Math.PI / 2 });
  text('prop. of RGCs', 9, 720, { rot: Math.PI / 2 });
  [130, 363, 590].forEach((x) => text('bits per second', x, 345));
  [130, 363, 593].forEach((x) => text('bits per second', x, 468));
  text('area (µ^2)', 132, 827);
  text('time to zero (sec)', 365, 827);
  text('firing rate (Hz)', 590, 827);
  text('area (µ^2)', 132, 946);
  text('time to zero (sec)', 365, 946);
  text('firing rate (Hz)', 590, 946);

  text('100 µm', 106, 597, { size: 11, color: '#111' });
  text('150 ms', 332, 597, { size: 11, color: '#111' });
  text('firing rate (Hz)', 481, 560, { size: 10.5, color: '#777', rot: Math.PI / 2 });
  text('contrast (au)', 544, 621, { size: 10.5, color: '#777' });

  return { animation: false, backgroundColor: '#ffffff', grid, xAxis, yAxis, series, graphic };
}

export default function App() {
  const ref = useRef<HTMLDivElement>(null);
  useEffect(() => {
    if (!ref.current) return;
    const chart = echarts.init(ref.current, null, { renderer: 'svg' });
    chart.setOption(buildOption() as any);
    return () => chart.dispose();
  }, []);
  return <div ref={ref} style={{ position: 'fixed', left: 0, top: 0, width: 683, height: 956 }} />;
}
